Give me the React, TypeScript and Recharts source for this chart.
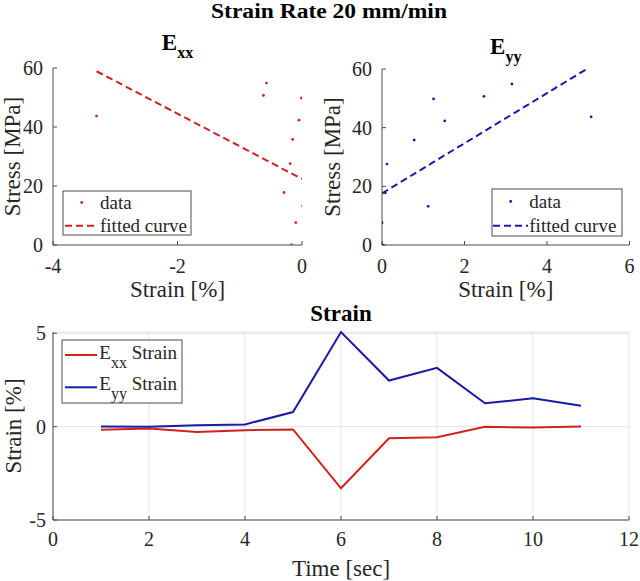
import React from 'react';
import { ComposedChart, LineChart, Line, Scatter, XAxis, YAxis, CartesianGrid } from 'recharts';

const FONT = "'Liberation Serif', 'Times New Roman', serif";
const RED = '#d02020';
const BLUE = '#1a1aa8';
const AX = '#4d4d4d';
const TXT = '#262626';

// measurements per time step
const timeSec = [1, 2, 3, 4, 5, 6, 7, 8, 9, 10, 11];
const exxStrain = [-0.17, -0.1, -0.29, -0.19, -0.15, -3.3, -0.62, -0.57, -0.01, -0.05, 0.01];
const eyyStrain = [0.01, 0.0, 0.08, 0.12, 0.78, 5.07, 2.47, 3.15, 1.25, 1.52, 1.12];
const stressMPa = [0, 7.6, 17.8, 27.6, 35.8, 43.7, 50.7, 54.9, 49.8, 42.3, 13.2];

// fitted lines (end points)
const exxFitStrain = [-3.3, 0.0];
const exxFitStress = [58.9, 22.4];
const eyyFitStrain = [0.0, 5.07];
const eyyFitStress = [17.6, 60.9];

// axes ticks
const exxTicks = [-4, -2, 0];
const eyyTicks = [0, 2, 4, 6];
const stressTicks = [0, 20, 40, 60];
const timeTicks = [0, 2, 4, 6, 8, 10, 12];
const strainTicks = [-5, 0, 5];

const exxPoints = exxStrain.map((x, i) => ({ x, y: stressMPa[i] }));
const eyyPoints = eyyStrain.map((x, i) => ({ x, y: stressMPa[i] }));
const exxFit = exxFitStrain.map((x, i) => ({ x, y: exxFitStress[i] }));
const eyyFit = eyyFitStrain.map((x, i) => ({ x, y: eyyFitStress[i] }));
const strainRows = timeSec.map((t, i) => ({ t, exx: exxStrain[i], eyy: eyyStrain[i] }));

const BottomTick = (p: any) => (
  <text x={p.x} y={p.y} dy="0.71em" textAnchor="middle" fontSize={20} fontFamily={FONT} fill={TXT}>
    {p.payload.value}
  </text>
);
const LeftTick = (p: any) => (
  <text x={p.x} y={p.y} dy="0.355em" textAnchor="end" fontSize={20} fontFamily={FONT} fill={TXT}>
    {p.payload.value}
  </text>
);

const Dot = (color: string) => (p: any) => <circle cx={p.cx} cy={p.cy} r={1.4} fill={color} />;
const NoShape = () => <g />;

function StressStrain(props: { points: any[]; fit: any[]; color: string; domain: [number, number]; ticks: number[]; ml: number; mr: number; mt: number }) {
  const { points, fit, color, domain, ticks, ml, mr, mt } = props;
  return (
    <ComposedChart width={320} height={300} margin={{ top: mt, right: mr, bottom: 25, left: ml }}>
      <XAxis type="number" dataKey="x" domain={domain} ticks={ticks} allowDataOverflow height={30}
        stroke={AX} tickSize={-4} tickMargin={18} tick={BottomTick} />
      <XAxis xAxisId="t" orientation="top" type="number" domain={domain} ticks={ticks} height={0}
        stroke={AX} tickSize={-4} tick={false} />
      <YAxis type="number" dataKey="y" domain={[0, 60]} ticks={stressTicks} allowDataOverflow width={40}
        stroke={AX} tickSize={-4} tickMargin={14} tick={LeftTick} />
      <YAxis yAxisId="r" orientation="right" type="number" domain={[0, 60]} ticks={stressTicks} width={0}
        stroke={AX} tickSize={-4} tick={false} />
      <Scatter data={points} fill={color} shape={Dot(color)} isAnimationActive={false} />
      <Scatter data={fit} shape={NoShape} line={{ stroke: color, strokeWidth: 2, strokeDasharray: '7 4' }}
        lineType="joint" isAnimationActive={false} />
    </ComposedChart>
  );
}

const legendTop = ['data', 'fitted curve'];
const legendBottom = [
  { sub: 'xx', color: RED },
  { sub: 'yy', color: BLUE },
];

export default function App() {
  return (
    <div style={{ position: 'absolute', left: 0, top: 0, width: 640, height: 581, background: '#fff', fontFamily: FONT }}>
      <div style={{ position: 'absolute', left: 0, top: 0 }}>
        <StressStrain points={exxPoints} fit={exxFit} color={RED} domain={[-4, 0]} ticks={exxTicks} ml={13} mr={18} mt={68} />
      </div>
      <div style={{ position: 'absolute', left: 320, top: 0 }}>
        <StressStrain points={eyyPoints} fit={eyyFit} color={BLUE} domain={[0, 6]} ticks={eyyTicks} ml={22} mr={10.5} mt={69} />
      </div>
      <div style={{ position: 'absolute', left: 0, top: 300 }}>
        <LineChart width={640} height={281} data={strainRows} margin={{ top: 32, right: 11, bottom: 31, left: 13 }}>
          <CartesianGrid stroke="#e3e3e3" />
          <XAxis type="number" dataKey="t" domain={[0, 12]} ticks={timeTicks} height={30}
            stroke={AX} tickSize={-4} tickMargin={16} tick={BottomTick} />
          <XAxis xAxisId="t" orientation="top" type="number" domain={[0, 12]} ticks={timeTicks} height={0}
            stroke={AX} tickSize={-4} tick={false} />
          <YAxis type="number" domain={[-5, 5]} ticks={strainTicks} width={40}
            stroke={AX} tickSize={-4} tickMargin={11} tick={LeftTick} />
          <YAxis yAxisId="r" orientation="right" type="number" domain={[-5, 5]} ticks={strainTicks} width={0}
            stroke={AX} tickSize={-4} tick={false} />
          <Line dataKey="exx" stroke={RED} strokeWidth={2} dot={false} isAnimationActive={false} />
          <Line dataKey="eyy" stroke={BLUE} strokeWidth={2} dot={false} isAnimationActive={false} />
        </LineChart>
      </div>
      <svg width={640} height={581} style={{ position: 'absolute', left: 0, top: 0, pointerEvents: 'none', fontFamily: FONT }}
        fill={TXT}>
        <text x={329} y={18} fontSize={20} fontWeight="bold" textAnchor="middle" fill="#000"
          textLength={236} lengthAdjust="spacingAndGlyphs">Strain Rate 20 mm/min</text>
        <text x={177.5} y={50} fontSize={23} fontWeight="bold" textAnchor="middle" fill="#000">
          E<tspan dy={8} fontSize={16}>xx</tspan>
        </text>
        <text x={505.75} y={54} fontSize={23} fontWeight="bold" textAnchor="middle" fill="#000">
          E<tspan dy={8} fontSize={16}>yy</tspan>
        </text>
        <text x={341} y={321} fontSize={23} fontWeight="bold" textAnchor="middle" fill="#000">Strain</text>

        <text transform="translate(12,156.5) rotate(-90)" fontSize={23} textAnchor="middle" dominantBaseline="central">Stress [MPa]</text>
        <text transform="translate(332,157) rotate(-90)" fontSize={23} textAnchor="middle" dominantBaseline="central">Stress [MPa]</text>
        <text transform="translate(13,426) rotate(-90)" fontSize={23} textAnchor="middle" dominantBaseline="central">Strain [%]</text>
        <text x={177.5} y={297} fontSize={23} textAnchor="middle">Strain [%]</text>
        <text x={505.75} y={297} fontSize={23} textAnchor="middle">Strain [%]</text>
        <text x={341} y={576} fontSize={23} textAnchor="middle">Time [sec]</text>

        {/* top-left legend */}
        <rect x={63} y={191} width={128} height={44} fill="#fff" stroke={AX} strokeWidth={1} />
        <circle cx={81.7} cy={202.5} r={1.4} fill={RED} />
        <text x={100} y={208.5} fontSize={19}>{legendTop[0]}</text>
        <line x1={65} x2={97} y1={225.7} y2={225.7} stroke={RED} strokeWidth={2} strokeDasharray="7 4" />
        <text x={100} y={231.5} fontSize={19}>{legendTop[1]}</text>

        {/* top-right legend */}
        <rect x={492} y={189} width={130} height={47} fill="#fff" stroke={AX} strokeWidth={1} />
        <circle cx={510.7} cy={201.5} r={1.4} fill={BLUE} />
        <text x={529.3} y={208} fontSize={19}>{legendTop[0]}</text>
        <line x1={493} x2={528} y1={225.7} y2={225.7} stroke={BLUE} strokeWidth={2} strokeDasharray="7 4" />
        <text x={529.3} y={232} fontSize={19}>{legendTop[1]}</text>

        {/* bottom legend */}
        <rect x={62} y={340} width={120} height={63} fill="#fff" stroke={AX} strokeWidth={1} />
        {legendBottom.map((e, i) => (
          <g key={e.sub}>
            <line x1={65} x2={97} y1={355 + i * 32.3} y2={355 + i * 32.3} stroke={e.color} strokeWidth={2} />
            <text x={99.3} y={359.3 + i * 31} fontSize={19}>
              E<tspan dy={8.5} fontSize={16}>{e.sub}</tspan><tspan dy={-8.5}> Strain</tspan>
            </text>
          </g>
        ))}
      </svg>
    </div>
  );
}
